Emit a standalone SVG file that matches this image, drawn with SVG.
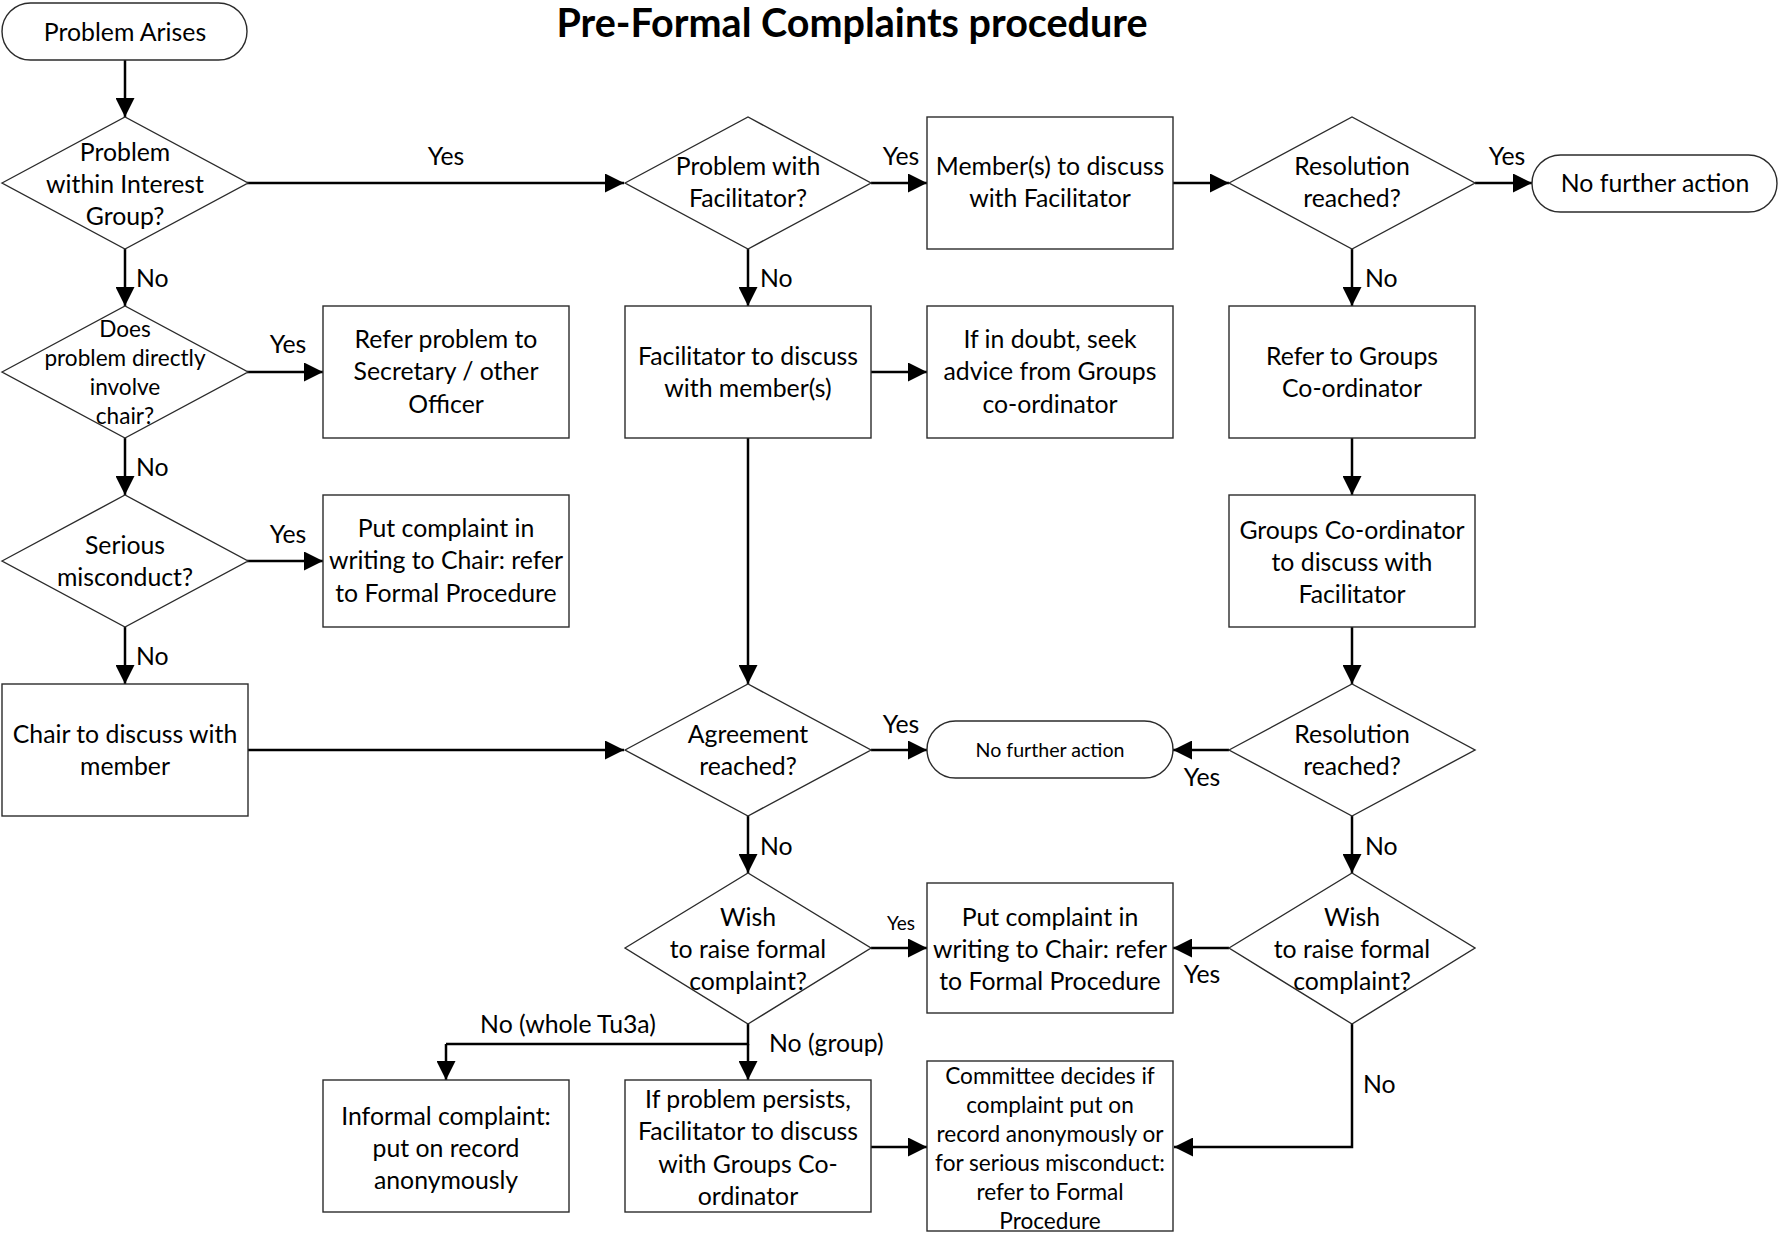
<svg xmlns="http://www.w3.org/2000/svg" width="1779" height="1234" viewBox="0 0 1779 1234">
<defs>
<marker id="ah" viewBox="0 0 20 20" markerWidth="20" markerHeight="19" refX="20" refY="10" orient="auto" markerUnits="userSpaceOnUse">
<path d="M0,0 L20,10 L0,20 z" fill="#000"/>
</marker>
<style>
.s{fill:#fff;stroke:#2b2b2b;stroke-width:1.4}
text{font-family:Lato,"Liberation Sans",sans-serif;fill:#000}
.t{font-size:24.8px;text-anchor:middle}
.m{font-size:22.6px;text-anchor:middle}
.sm{font-size:19.6px;text-anchor:middle}
.sy{font-size:19px;text-anchor:middle}
.l{font-size:24.8px}
.lc{font-size:24.8px;text-anchor:middle}
.c{fill:none;stroke:#000;stroke-width:2.5;marker-end:url(#ah)}
.cn{fill:none;stroke:#000;stroke-width:2.5}
</style>
</defs>
<rect width="1779" height="1234" fill="#fff"/>
<text x="852" y="37" style="font-size:39.5px;font-weight:bold;text-anchor:middle">Pre-Formal Complaints procedure</text>

<g id="connectors">
<path class="c" d="M125,60 V117"/>
<path class="c" d="M247,183 H624"/>
<path class="c" d="M125,249 V306"/>
<path class="c" d="M247,372 H323"/>
<path class="c" d="M125,438 V495"/>
<path class="c" d="M247,561 H323"/>
<path class="c" d="M125,627 V684"/>
<path class="c" d="M248,750 H624"/>
<path class="c" d="M871,183 H927"/>
<path class="c" d="M748,249 V306"/>
<path class="c" d="M1173,183 H1229"/>
<path class="c" d="M871,372 H927"/>
<path class="c" d="M748,438 V684"/>
<path class="c" d="M1475,183 H1532"/>
<path class="c" d="M1352,249 V306"/>
<path class="c" d="M1352,438 V495"/>
<path class="c" d="M1352,627 V684"/>
<path class="c" d="M871,750 H927"/>
<path class="c" d="M1229,750 H1173"/>
<path class="c" d="M748,816 V873"/>
<path class="c" d="M1352,816 V873"/>
<path class="c" d="M871,948 H927"/>
<path class="c" d="M1229,948 H1173"/>
<path class="cn" d="M748,1024 V1044 H446"/>
<path class="c" d="M446,1044 V1080"/>
<path class="c" d="M748,1044 V1080"/>
<path class="c" d="M871,1147 H927"/>
<path class="c" d="M1352,1024 V1147 H1174"/>
<text class="lc" x="446" y="165">Yes</text>
<text class="l" x="136" y="287">No</text>
<text class="lc" x="288" y="353">Yes</text>
<text class="l" x="136" y="476">No</text>
<text class="lc" x="288" y="543">Yes</text>
<text class="l" x="136" y="665">No</text>
<text class="lc" x="901" y="165">Yes</text>
<text class="l" x="760" y="287">No</text>
<text class="lc" x="1507" y="165">Yes</text>
<text class="l" x="1365" y="287">No</text>
<text class="lc" x="901" y="733">Yes</text>
<text class="lc" x="1202" y="786">Yes</text>
<text class="l" x="760" y="855">No</text>
<text class="l" x="1365" y="855">No</text>
<text class="sy" x="901" y="930">Yes</text>
<text class="lc" x="1202" y="983">Yes</text>
<text class="lc" x="568" y="1033">No (whole Tu3a)</text>
<text class="l" x="769" y="1052">No (group)</text>
<text class="l" x="1363" y="1093">No</text>
</g>

<g id="start"><rect class="s" x="2" y="3" width="245" height="57" rx="28.5"/><text class="t" x="125" y="41">Problem Arises</text></g>

<g id="d_within"><path class="s" d="M2,183 L125,117 L248,183 L125,249 z"/>
<text class="t" x="125" y="161">Problem</text><text class="t" x="125" y="193">within Interest</text><text class="t" x="125" y="225">Group?</text></g>

<g id="d_chair"><path class="s" d="M2,372 L125,306 L248,372 L125,438 z"/>
<text class="m" x="125" y="337">Does</text><text class="m" x="125" y="366">problem directly</text><text class="m" x="125" y="395">involve</text><text class="m" x="125" y="424">chair?</text></g>

<g id="b_refer"><rect class="s" x="323" y="306" width="246" height="132"/>
<text class="t" x="446" y="348">Refer problem to</text><text class="t" x="446" y="380">Secretary / other</text><text class="t" x="446" y="413">Officer</text></g>

<g id="d_serious"><path class="s" d="M2,561 L125,495 L248,561 L125,627 z"/>
<text class="t" x="125" y="554">Serious</text><text class="t" x="125" y="586">misconduct?</text></g>

<g id="b_put1"><rect class="s" x="323" y="495" width="246" height="132"/>
<text class="t" x="446" y="537">Put complaint in</text><text class="t" x="446" y="569">writing to Chair: refer</text><text class="t" x="446" y="602">to Formal Procedure</text></g>

<g id="b_chair"><rect class="s" x="2" y="684" width="246" height="132"/>
<text class="t" x="125" y="743">Chair to discuss with</text><text class="t" x="125" y="775">member</text></g>

<g id="d_fac"><path class="s" d="M625,183 L748,117 L871,183 L748,249 z"/>
<text class="t" x="748" y="175">Problem with</text><text class="t" x="748" y="207">Facilitator?</text></g>

<g id="b_member"><rect class="s" x="927" y="117" width="246" height="132"/>
<text class="t" x="1050" y="175">Member(s) to discuss</text><text class="t" x="1050" y="207">with Facilitator</text></g>

<g id="b_facdisc"><rect class="s" x="625" y="306" width="246" height="132"/>
<text class="t" x="748" y="365">Facilitator to discuss</text><text class="t" x="748" y="397">with member(s)</text></g>

<g id="b_doubt"><rect class="s" x="927" y="306" width="246" height="132"/>
<text class="t" x="1050" y="348">If in doubt, seek</text><text class="t" x="1050" y="380">advice from Groups</text><text class="t" x="1050" y="413">co-ordinator</text></g>

<g id="d_res1"><path class="s" d="M1229,183 L1352,117 L1475,183 L1352,249 z"/>
<text class="t" x="1352" y="175">Resolution</text><text class="t" x="1352" y="207">reached?</text></g>

<g id="end1"><rect class="s" x="1532" y="155" width="245" height="57" rx="28.5"/><text class="t" x="1655" y="192">No further action</text></g>

<g id="b_refergc"><rect class="s" x="1229" y="306" width="246" height="132"/>
<text class="t" x="1352" y="365">Refer to Groups</text><text class="t" x="1352" y="397">Co-ordinator</text></g>

<g id="b_gcdisc"><rect class="s" x="1229" y="495" width="246" height="132"/>
<text class="t" x="1352" y="539">Groups Co-ordinator</text><text class="t" x="1352" y="571">to discuss with</text><text class="t" x="1352" y="603">Facilitator</text></g>

<g id="d_agree"><path class="s" d="M625,750 L748,684 L871,750 L748,816 z"/>
<text class="t" x="748" y="743">Agreement</text><text class="t" x="748" y="775">reached?</text></g>

<g id="end2"><rect class="s" x="927" y="721" width="246" height="57" rx="28.5"/><text class="sm" x="1050" y="757">No further action</text></g>

<g id="d_res2"><path class="s" d="M1229,750 L1352,684 L1475,750 L1352,816 z"/>
<text class="t" x="1352" y="743">Resolution</text><text class="t" x="1352" y="775">reached?</text></g>

<g id="d_wish1"><path class="s" d="M625,948 L748,873 L871,948 L748,1024 z"/>
<text class="t" x="748" y="926">Wish</text><text class="t" x="748" y="958">to raise formal</text><text class="t" x="748" y="990">complaint?</text></g>

<g id="b_put2"><rect class="s" x="927" y="883" width="246" height="130"/>
<text class="t" x="1050" y="926">Put complaint in</text><text class="t" x="1050" y="958">writing to Chair: refer</text><text class="t" x="1050" y="990">to Formal Procedure</text></g>

<g id="d_wish2"><path class="s" d="M1229,948 L1352,873 L1475,948 L1352,1024 z"/>
<text class="t" x="1352" y="926">Wish</text><text class="t" x="1352" y="958">to raise formal</text><text class="t" x="1352" y="990">complaint?</text></g>

<g id="b_informal"><rect class="s" x="323" y="1080" width="246" height="132"/>
<text class="t" x="446" y="1125">Informal complaint:</text><text class="t" x="446" y="1157">put on record</text><text class="t" x="446" y="1189">anonymously</text></g>

<g id="b_persist"><rect class="s" x="625" y="1080" width="246" height="132"/>
<text class="t" x="748" y="1108">If problem persists,</text><text class="t" x="748" y="1140">Facilitator to discuss</text><text class="t" x="748" y="1173">with Groups Co-</text><text class="t" x="748" y="1205">ordinator</text></g>

<g id="b_committee"><rect class="s" x="927" y="1061" width="246" height="170"/>
<text class="m" x="1050" y="1084">Committee decides if</text><text class="m" x="1050" y="1113">complaint put on</text><text class="m" x="1050" y="1142">record anonymously or</text><text class="m" x="1050" y="1171">for serious misconduct:</text><text class="m" x="1050" y="1200">refer to Formal</text><text class="m" x="1050" y="1229">Procedure</text></g>
</svg>
